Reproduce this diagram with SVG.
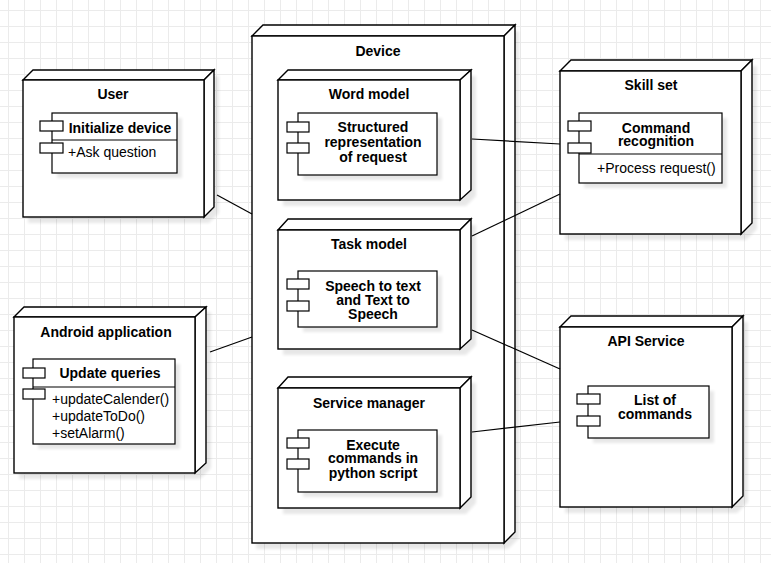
<svg xmlns="http://www.w3.org/2000/svg" width="771" height="563" viewBox="0 0 771 563">
  <defs>
    <pattern id="grid" x="8" y="10" width="16" height="16" patternUnits="userSpaceOnUse">
      <path d="M0 0.5 H16 M0.5 0 V16" fill="none" stroke="#ebebeb" stroke-width="1"/>
    </pattern>
    <filter id="soft" x="-10%" y="-10%" width="130%" height="130%">
      <feGaussianBlur stdDeviation="1.5"/>
    </filter>
  </defs>
  <style>
    .box { fill: #ffffff; stroke: #000000; stroke-width: 1.4; stroke-linejoin: miter; }
    .shadow { fill: #000000; opacity: 0.09; filter: url(#soft); }
    .port { fill: #ffffff; stroke: #000000; stroke-width: 1.2; }
    .comp { fill: #ffffff; stroke: #000000; stroke-width: 1.2; }
    .link { fill: none; stroke: #000000; stroke-width: 1.2; }
    .title { font-family: "Liberation Sans", Arial, sans-serif; font-size: 14px; font-weight: bold; fill: #000000; text-anchor: middle; }
    .label { font-family: "Liberation Sans", Arial, sans-serif; font-size: 14px; font-weight: bold; fill: #000000; text-anchor: middle; }
    .member { font-family: "Liberation Sans", Arial, sans-serif; font-size: 14px; fill: #000000; }
  </style>

  <rect width="771" height="563" fill="#ffffff"/>
  <rect width="771" height="563" fill="url(#grid)"/>

  <!-- Device (outer node) -->
  <g id="device">
    <path class="shadow" d="M256 42 L267 31 L519 31 L519 538 L508 549 L256 549 Z"/>
    <path class="box" d="M252 36 L263 25 L515 25 L504 36 Z"/>
    <path class="box" d="M504 36 L515 25 L515 532 L504 543 Z"/>
    <rect class="box" x="252" y="36" width="252" height="507"/>
    <text class="title" x="378" y="56">Device</text>
  </g>

  <!-- Word model -->
  <g id="word-model">
    <path class="shadow" d="M283 86 L293 76 L476 76 L476 196 L466 206 L283 206 Z"/>
    <path class="box" d="M278 80 L288 70 L471 70 L460 80 Z"/>
    <path class="box" d="M460 80 L471 70 L471 190 L460 200 Z"/>
    <rect class="box" x="278" y="80" width="182" height="120"/>
    <text class="title" x="369" y="99">Word model</text>
    <rect class="shadow" x="303" y="118" width="139" height="62"/>
    <rect class="comp" x="298" y="113" width="139" height="62"/>
    <rect class="port" x="287" y="122" width="22" height="10"/>
    <rect class="port" x="287" y="143" width="22" height="10"/>
    <text class="label" x="373" y="132">Structured</text>
    <text class="label" x="373" y="147">representation</text>
    <text class="label" x="373" y="162">of request</text>
  </g>

  <!-- Task model -->
  <g id="task-model">
    <path class="shadow" d="M283 236 L293 225 L476 225 L476 345 L466 355 L283 355 Z"/>
    <path class="box" d="M278 230 L288 219 L471 219 L460 230 Z"/>
    <path class="box" d="M460 230 L471 219 L471 339 L460 349 Z"/>
    <rect class="box" x="278" y="230" width="182" height="119"/>
    <text class="title" x="369" y="249">Task model</text>
    <rect class="shadow" x="303" y="276" width="139" height="56"/>
    <rect class="comp" x="298" y="271" width="139" height="56"/>
    <rect class="port" x="287" y="279" width="22" height="10"/>
    <rect class="port" x="287" y="301" width="22" height="10"/>
    <text class="label" x="373" y="291">Speech to text</text>
    <text class="label" x="373" y="305">and Text to</text>
    <text class="label" x="373" y="319">Speech</text>
  </g>

  <!-- Service manager -->
  <g id="service-manager">
    <path class="shadow" d="M283 394 L293 383 L476 383 L476 503 L466 514 L283 514 Z"/>
    <path class="box" d="M278 388 L288 377 L471 377 L460 388 Z"/>
    <path class="box" d="M460 388 L471 377 L471 497 L460 508 Z"/>
    <rect class="box" x="278" y="388" width="182" height="120"/>
    <text class="title" x="369" y="408">Service manager</text>
    <rect class="shadow" x="303" y="435" width="139" height="62"/>
    <rect class="comp" x="298" y="430" width="139" height="62"/>
    <rect class="port" x="287" y="438" width="22" height="10"/>
    <rect class="port" x="287" y="459" width="22" height="10"/>
    <text class="label" x="373" y="450">Execute</text>
    <text class="label" x="373" y="463">commands in</text>
    <text class="label" x="373" y="478">python script</text>
  </g>

  <!-- User -->
  <g id="user">
    <path class="shadow" d="M28 86 L38 76 L219 76 L219 213 L209 223 L28 223 Z"/>
    <path class="box" d="M23 80 L33 70 L214 70 L204 80 Z"/>
    <path class="box" d="M204 80 L214 70 L214 207 L204 217 Z"/>
    <rect class="box" x="23" y="80" width="181" height="137"/>
    <text class="title" x="113" y="99">User</text>
    <rect class="shadow" x="57" y="118" width="125" height="60"/>
    <rect class="comp" x="52" y="113" width="125" height="60"/>
    <line class="comp" x1="52" y1="140" x2="177" y2="140"/>
    <rect class="port" x="40" y="121" width="23" height="10"/>
    <rect class="port" x="40" y="143" width="23" height="10"/>
    <text class="label" x="120" y="133">Initialize device</text>
    <text class="member" x="68" y="157">+Ask question</text>
  </g>

  <!-- Android application -->
  <g id="android-app">
    <path class="shadow" d="M19 323 L29 312 L211 312 L211 468 L200 479 L19 479 Z"/>
    <path class="box" d="M14 317 L24 307 L206 307 L195 317 Z"/>
    <path class="box" d="M195 317 L206 307 L206 463 L195 473 Z"/>
    <rect class="box" x="14" y="317" width="181" height="156"/>
    <text class="title" x="106" y="337">Android application</text>
    <rect class="shadow" x="38" y="364" width="142" height="85"/>
    <rect class="comp" x="33" y="359" width="142" height="85"/>
    <line class="comp" x1="33" y1="387" x2="175" y2="387"/>
    <rect class="port" x="23" y="368" width="22" height="10"/>
    <rect class="port" x="23" y="389" width="22" height="10"/>
    <text class="label" x="110" y="378">Update queries</text>
    <text class="member" x="52" y="404">+updateCalender()</text>
    <text class="member" x="52" y="421">+updateToDo()</text>
    <text class="member" x="52" y="438">+setAlarm()</text>
  </g>

  <!-- Skill set -->
  <g id="skill-set">
    <path class="shadow" d="M565 77 L576 66 L757 66 L757 229 L746 240 L565 240 Z"/>
    <path class="box" d="M560 71 L571 60 L752 60 L741 71 Z"/>
    <path class="box" d="M741 71 L752 60 L752 223 L741 234 Z"/>
    <rect class="box" x="560" y="71" width="181" height="163"/>
    <text class="title" x="651" y="90">Skill set</text>
    <rect class="shadow" x="584" y="118" width="143" height="70"/>
    <rect class="comp" x="579" y="113" width="143" height="70"/>
    <line class="comp" x1="579" y1="154" x2="722" y2="154"/>
    <rect class="port" x="568" y="121" width="23" height="10"/>
    <rect class="port" x="568" y="143" width="23" height="10"/>
    <text class="label" x="656" y="133">Command</text>
    <text class="label" x="656" y="146">recognition</text>
    <text class="member" x="597" y="173">+Process request()</text>
  </g>

  <!-- API Service -->
  <g id="api-service">
    <path class="shadow" d="M565 333 L576 322 L748 322 L748 502 L737 513 L565 513 Z"/>
    <path class="box" d="M560 327 L571 316 L743 316 L732 327 Z"/>
    <path class="box" d="M732 327 L743 316 L743 496 L732 507 Z"/>
    <rect class="box" x="560" y="327" width="172" height="180"/>
    <text class="title" x="646" y="346">API Service</text>
    <rect class="shadow" x="593" y="391" width="121" height="52"/>
    <rect class="comp" x="588" y="386" width="121" height="52"/>
    <rect class="port" x="577" y="394" width="23" height="10"/>
    <rect class="port" x="577" y="416" width="23" height="10"/>
    <text class="label" x="655" y="405">List of</text>
    <text class="label" x="655" y="419">commands</text>
  </g>

  <!-- Connectors -->
  <g id="connectors">
    <line class="link" x1="217" y1="195" x2="252" y2="214"/>
    <line class="link" x1="210" y1="352" x2="252" y2="337"/>
    <line class="link" x1="472" y1="139" x2="560" y2="144"/>
    <line class="link" x1="472" y1="236" x2="560" y2="194"/>
    <line class="link" x1="472" y1="330" x2="560" y2="369"/>
    <line class="link" x1="472" y1="432" x2="560" y2="422"/>
  </g>
</svg>
